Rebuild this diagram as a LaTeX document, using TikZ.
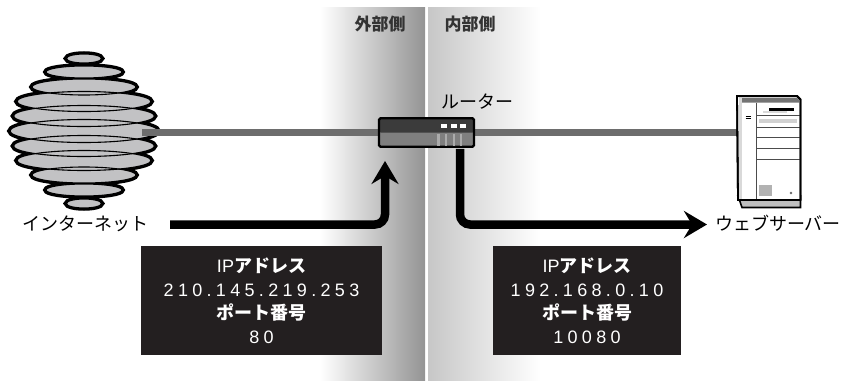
\documentclass[tikz,border=0pt]{standalone}
\usepackage{fontspec}
\setmainfont{Liberation Sans}
\newfontfamily\jp{Noto Sans CJK JP}
\newfontfamily\num{Liberation Sans}[LetterSpace=24]
\usetikzlibrary{arrows.meta,calc}
\definecolor{wiregray}{HTML}{6D6D6D}
\definecolor{globegray}{HTML}{C2C2C4}
\definecolor{routertop}{HTML}{3B3B3B}
\definecolor{routerlow}{HTML}{7F7F7F}
\definecolor{boxblack}{HTML}{231F20}

\begin{document}
\begin{tikzpicture}[x=1pt,y=-1pt,
  wire/.style={draw=wiregray,line width=6.5pt},
  flow/.style={line width=8.5pt,rounded corners=10pt,-{Stealth[length=23pt,width=27pt,inset=8pt]}},
  router/.style={draw,line width=2.4pt,rounded corners=1.5pt,minimum width=95pt,minimum height=28.5pt,
    inner sep=0pt,fill=routerlow,
    path picture={\fill[routertop] (path picture bounding box.north west) rectangle (path picture bounding box.east);}},
  infobox/.style={fill=boxblack,text=white,inner sep=0pt,align=center,font=\fontsize{18}{23.5}\selectfont},
  jplabel/.style={font=\jp\fontsize{18}{20}\selectfont},
  side/.style={font=\jp\bfseries\fontsize{17}{20}\selectfont,text=black!80}]
\useasboundingbox (0,0) rectangle (845,380);

% outside / inside bands
\shade[left color=white,right color=black!42] (320,7) rectangle (425,380);
\shade[left color=black!22,right color=white] (428,7) rectangle (540,380);
\node[side] (outer) at (380,24) {外部側};
\node[side] (inner) at (470,24) {内部側};

% internet
\foreach \dy/\rx/\ry in {0/74/11.5,-15/70.5/10.5,15/70.5/10.5,-29.5/67/10,29.5/67/10,
    -44/52/8,44/52/8,-59/38/6,59/38/6,-72.5/17.5/4.5,72.5/17.5/4.5}
  \draw[line width=5.5pt] (84,{131+\dy}) ellipse [x radius=\rx,y radius=\ry];
\foreach \dy/\rx/\ry in {0/74/11.5,-15/70.5/10.5,15/70.5/10.5,-29.5/67/10,29.5/67/10,
    -44/52/8,44/52/8,-59/38/6,59/38/6,-72.5/17.5/4.5,72.5/17.5/4.5}
  \fill[globegray] (84,{131+\dy}) ellipse [x radius=\rx,y radius=\ry];
\foreach \dy/\rx/\ry in {0/74/11.5,-15/70.5/10.5,15/70.5/10.5,-29.5/67/10,29.5/67/10,
    -44/52/8,44/52/8,-59/38/6,59/38/6,-72.5/17.5/4.5,72.5/17.5/4.5}
  \draw[line width=1.1pt] (84,{131+\dy}) ellipse [x radius=\rx,y radius=\ry];
\coordinate (net) at (142,132.5);
\node[jplabel] (netlabel) at (85,224) {インターネット};

% web server
\coordinate (server) at (737,132.5);
\node[jplabel] (weblabel) at (778,223) {ウェブサーバー};

\draw[wire] (net) -- (server);

\filldraw[fill=black!25,line width=1.6pt] (738,196) -- (800.5,196) -- (800.5,207.5) -- (742,207.5) -- cycle;
\filldraw[fill=white,line width=1.8pt] (737,96) -- (797,96) -- (800.5,99.5) -- (800.5,200) -- (738,200) -- cycle;
\fill[black!55] (738.5,97.5) -- (796.5,97.5) -- (799,100) -- (799,102.5) -- (742,102.5) -- cycle;
\fill[black!15] (738.5,97.5) rectangle (742,199);
\draw[black!70,line width=0.8pt] (756,102.5) -- (756,199);
\foreach \ly in {115,127,137.5,148,159}
  \draw[black!70,line width=0.8pt] (756,\ly) -- (800,\ly);
\fill (769,107.5) rectangle (794,110.5);
\fill[black!15] (763,111) rectangle (787,113);
\fill[black!18] (758.5,118.5) rectangle (797,123);
\draw[line width=0.7pt] (745.5,116) -- (750.5,116) (745.5,118.5) -- (750.5,118.5);
\fill[black!30] (759,185) rectangle (772,196);
\fill[black!60] (791,193) circle (1.4);
\draw[line width=1.8pt,line join=round] (737,96) -- (797,96) -- (800.5,99.5) -- (800.5,200) -- (738,200) -- cycle;

% router
\node[router] (router) at (426.5,132.5) {};
\node[jplabel] (routerlabel) at (477,102) {ルーター};
\foreach \dx in {444,454,463}
  \fill[white] (\dx-3,124) rectangle (\dx+3,127.5);
\foreach \dx in {438.5,446,454,461}
  \fill[black!33] (\dx-1.2,133.5) rectangle (\dx+1.2,145.5);

% packet flow
\coordinate (inA) at (170,224.5);
\coordinate (outB) at (707,224.5);
\draw[flow] (inA) -| ($(router.south)+(-41.5,13)$);
\draw[flow] ($(router.south)+(33.5,1)$) |- (outB);

% address boxes
\node[infobox,minimum width=241pt,minimum height=109pt] (pubbox) at (261.5,300.5)
  {IP{\jp\bfseries アドレス}\\{\num 210.145.219.253}\\{\jp\bfseries ポート番号}\\{\num 80}};
\node[infobox,minimum width=188pt,minimum height=109pt] (privbox) at (587,300.5)
  {IP{\jp\bfseries アドレス}\\{\num 192.168.0.10}\\{\jp\bfseries ポート番号}\\{\num 10080}};
\end{tikzpicture}
\end{document}
